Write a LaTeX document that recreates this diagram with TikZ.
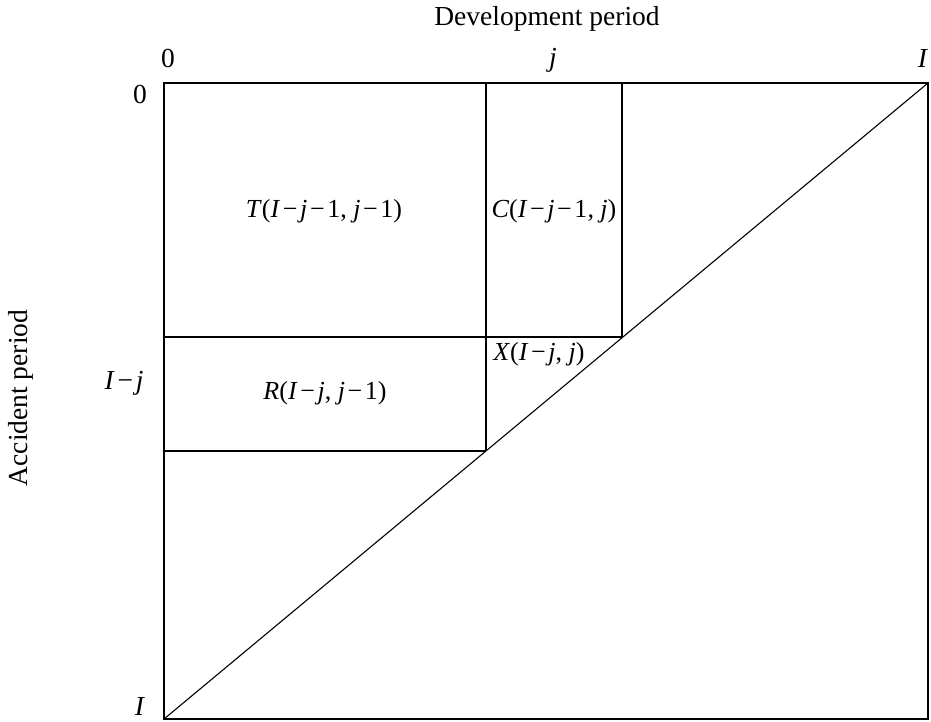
\documentclass[tikz,border=0pt]{standalone}
\usepackage{fontspec}
\setmainfont{Liberation Serif}
\newcommand{\mn}{\hspace{0.1em}−\hspace{0.1em}}
\begin{document}
\begin{tikzpicture}[x=1pt,y=-1pt,
  edge/.style={line width=1.1pt,black},
  lab/.style={font=\fontsize{27.5}{32}\selectfont,inner sep=0pt},
  cell/.style={font=\fontsize{26}{30}\selectfont,inner sep=0pt}]
\useasboundingbox (0,0) rectangle (931,721);
% corners and grid points
\coordinate (tl) at (164,83);
\coordinate (tr) at (928,83);
\coordinate (bl) at (164,719);
\coordinate (br) at (928,719);
\coordinate (v1t) at (486,83);
\coordinate (v1b) at (486,451);
\coordinate (v2t) at (622,83);
\coordinate (v2b) at (622,337);
\coordinate (h1l) at (164,337);
\coordinate (h2l) at (164,451);
% frame and lines
\draw[edge] (tl) rectangle (br);
\draw[edge] (bl) -- (tr);
\draw[edge] (v1t) -- (v1b);
\draw[edge] (v2t) -- (v2b);
\draw[edge] (h1l) -- (v2b);
\draw[edge] (h2l) -- (v1b);
% axis titles
\node[lab] (dev) at (547,19) {Development period};
\node[lab,rotate=90] (acc) at (21,398) {Accident period};
% tick labels
\node[lab] (c0) at (168,58) {0};
\node[lab] (cj) at (553,60) {\textit{j}};
\node[lab] (cI) at (923,58) {\textit{I}};
\node[lab] (r0) at (140,94) {0};
\node[lab] (rj) at (124,383) {\textit{I}\mn\textit{j}};
\node[lab] (rI) at (140,706) {\textit{I}};
% cell labels
\node[cell] (T) at (324,211) {\textit{T}(\textit{I}\mn\textit{j}\mn1, \textit{j}\mn1)};
\node[cell] (C) at (554,211) {\textit{C}(\textit{I}\mn\textit{j}\mn1, \textit{j})};
\node[cell] (R) at (325,393) {\textit{R}(\textit{I}\mn\textit{j}, \textit{j}\mn1)};
\node[cell] (X) at (539,354) {\textit{X}(\textit{I}\mn\textit{j}, \textit{j})};
\end{tikzpicture}
\end{document}
